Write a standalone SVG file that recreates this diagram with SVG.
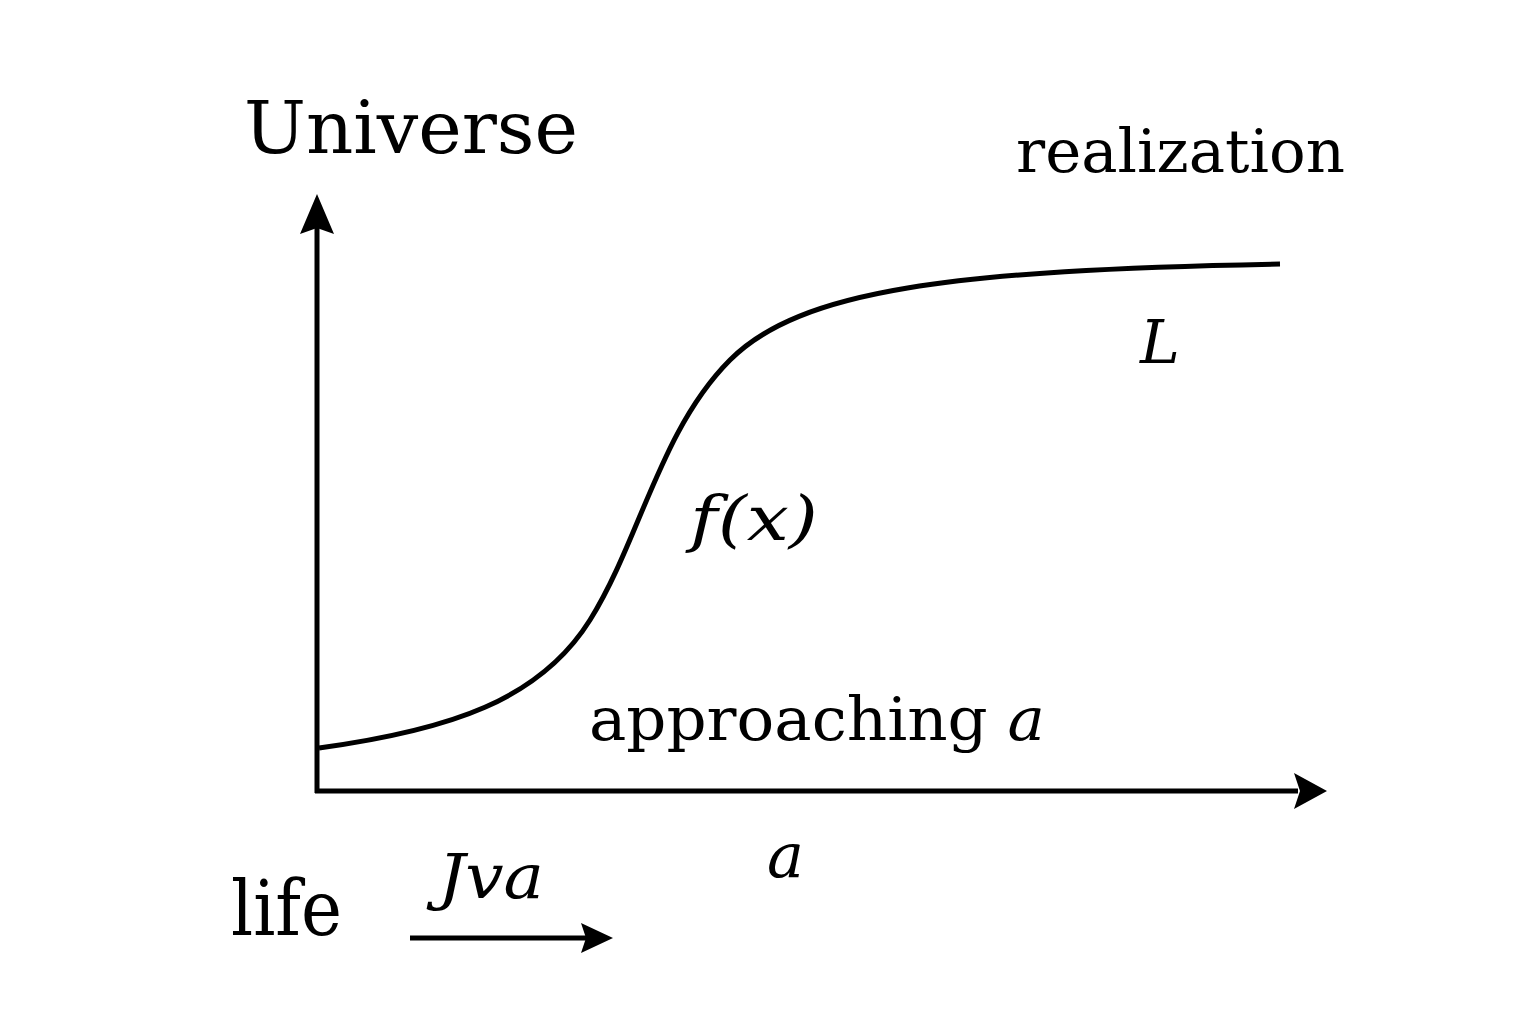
<svg xmlns="http://www.w3.org/2000/svg" width="1536" height="1024" viewBox="0 0 1536 1024">
<style>
.t{font-family:"DejaVu Serif","Liberation Serif",serif;fill:#000}
.i{font-style:italic}
.ax{stroke:#000;stroke-width:5;fill:none}
</style>
<rect width="1536" height="1024" fill="#fff"/>
<g id="connectors">
<line class="ax" x1="317" y1="793" x2="317" y2="226"/>
<path d="M317 194 L334 234 L317 228 L300 234 Z" fill="#000"/>
<line class="ax" x1="315" y1="791" x2="1298" y2="791"/>
<path d="M1327 791 L1294 773 L1300 791 L1294 809 Z" fill="#000"/>
<line class="ax" x1="410" y1="938" x2="586" y2="938"/>
<path d="M613 938 L581 923 L586 938 L581 953 Z" fill="#000"/>
<path class="ax" d="M319 748 C450 730,540 700,590 620 C640 540,660 430,730 360 C800 290,950 270,1280 264"/>
</g>
<g id="universe"><text class="t" x="244" y="153" font-size="73" textLength="334" lengthAdjust="spacingAndGlyphs">Universe</text></g>
<g id="realization"><text class="t" x="1016" y="172" font-size="60" textLength="329" lengthAdjust="spacingAndGlyphs">realization</text></g>
<g id="L"><text class="t i" x="1140" y="363" font-size="60">L</text></g>
<g id="fx"><text class="t i" x="690" y="540" font-size="62" textLength="128" lengthAdjust="spacingAndGlyphs">f(x)</text></g>
<g id="approaching"><text class="t" x="589" y="740" font-size="60" textLength="456" lengthAdjust="spacingAndGlyphs">approaching <tspan class="i">a</tspan></text></g>
<g id="a"><text class="t i" x="767" y="877" font-size="62">a</text></g>
<g id="life"><text class="t" x="231" y="935" font-size="76" textLength="111" lengthAdjust="spacingAndGlyphs">life</text></g>
<g id="jva"><text class="t i" x="438" y="898" font-size="62" textLength="106" lengthAdjust="spacingAndGlyphs">Jva</text></g>
</svg>
